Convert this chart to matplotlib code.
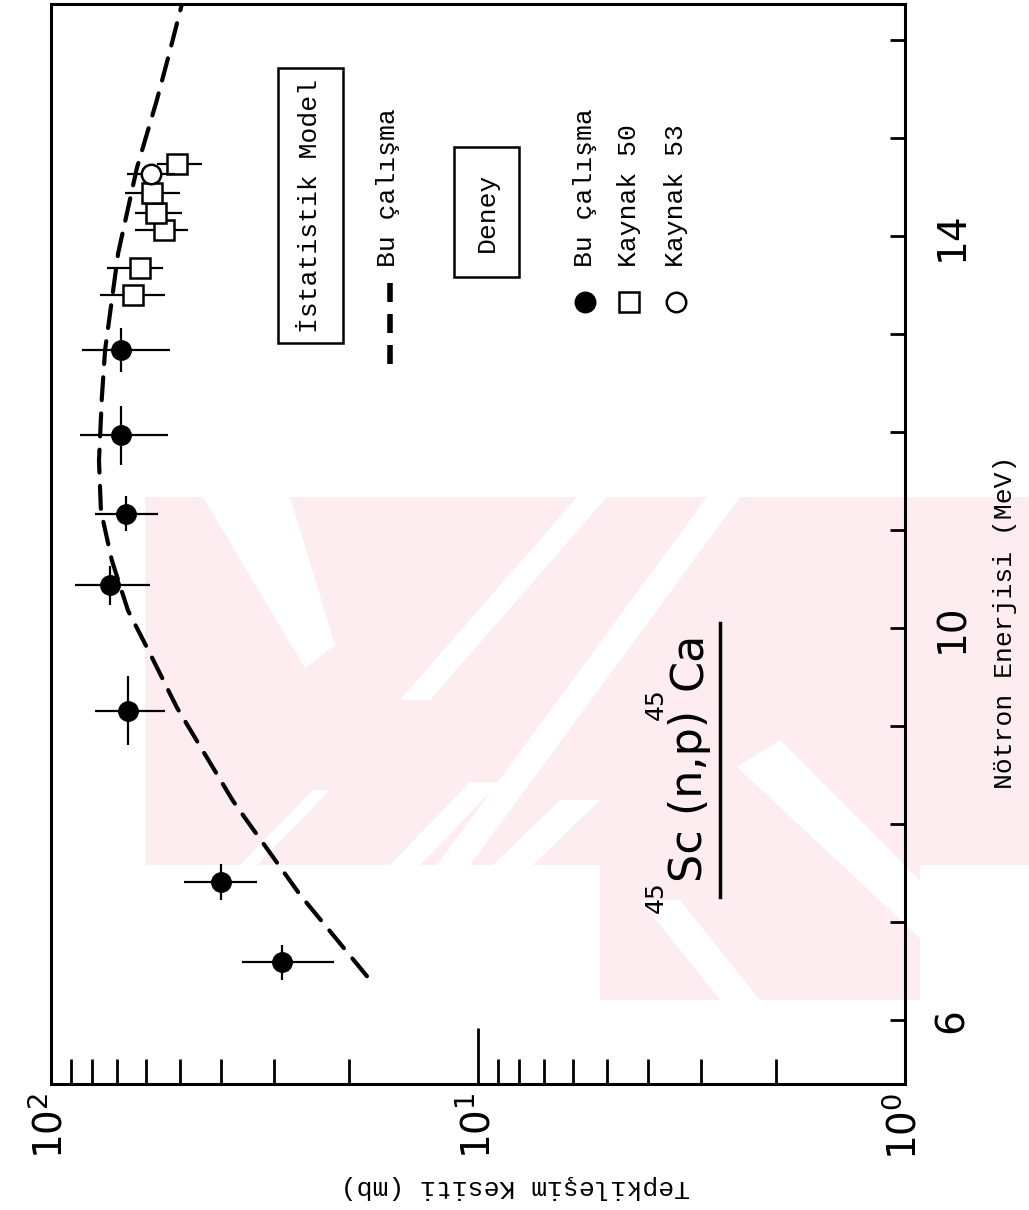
import numpy as np
import matplotlib.pyplot as plt
from matplotlib.lines import Line2D
from matplotlib.patches import Rectangle, Polygon
from matplotlib.ticker import FixedLocator, FuncFormatter, NullFormatter

plt.rcParams['mathtext.default'] = 'regular'

# Bu çalışma (deney): nötron enerjisi (MeV), tesir kesiti (mb)
bu_E = [6.59, 7.41, 9.16, 10.44, 11.17, 11.97, 12.84]
bu_E_err = [0.18, 0.18, 0.35, 0.20, 0.18, 0.30, 0.22]
bu_sigma = [28.8, 40.0, 66.0, 72.8, 66.7, 68.5, 68.5]
bu_lo = [21.7, 32.9, 54.1, 58.6, 56.2, 53.2, 52.7]
bu_hi = [35.7, 48.8, 78.9, 87.9, 78.9, 85.5, 84.6]

# Kaynak 50
k50_E = [13.40, 13.68, 14.06, 14.24, 14.44, 14.74]
k50_sigma = [64.3, 61.9, 54.4, 56.8, 58.0, 50.7]
k50_lo = [54.1, 54.7, 47.7, 49.3, 49.9, 44.3]
k50_hi = [76.8, 74.0, 63.6, 63.6, 67.1, 56.4]

# Kaynak 53
k53_E = [14.64]
k53_sigma = [58.4]
k53_lo = [51.3]
k53_hi = [66.4]

# istatistik model (bu çalışma)
model_E = [6.45, 7.28, 8.04, 8.24, 9.19, 9.74, 10.18, 10.69, 11.20, 11.71,
           12.36, 12.84, 13.83, 14.70, 15.39, 15.90, 16.38]
model_sigma = [18.2, 26.1, 34.8, 37.5, 50.7, 58.6, 66.0, 72.0, 76.4, 77.2,
               76.0, 74.7, 69.6, 62.9, 56.5, 52.6, 49.3]

W, H = 1029, 1210
fig = plt.figure(figsize=(W / 100, H / 100), dpi=100)
ax = fig.add_axes([51 / W, 1 - 1084 / H, (905 - 51) / W, (1084 - 4) / H])
ax.set_facecolor('none')

def fx(px):
    return px / W

def fy(py):
    return 1 - py / H

def fpoly(pts, color):
    fig.patches.append(Polygon([(fx(a), fy(b)) for a, b in pts], closed=True,
                               transform=fig.transFigure, fc=color, ec='none',
                               zorder=-5))

# faint pink watermark of the scanned page (drawn underneath everything)
pink = '#fdedf0'
fpoly([(145, 497), (1029, 497), (1029, 865), (920, 865), (920, 1000),
       (600, 1000), (600, 865), (145, 865)], pink)
for st in [[(203, 497), (290, 497), (335, 645), (305, 668)],
           [(577, 497), (607, 497), (430, 700), (400, 700)],
           [(707, 497), (740, 497), (470, 865), (437, 865)],
           [(240, 865), (257, 865), (330, 790), (313, 790)],
           [(390, 865), (420, 865), (500, 782), (470, 782)],
           [(493, 865), (533, 865), (600, 800), (560, 800)],
           [(737, 767), (780, 740), (1029, 990), (1029, 1040)],
           [(640, 900), (680, 900), (760, 1000), (720, 1000)]]:
    fpoly(st, 'white')

# the original figure is turned 90 degrees: sigma runs right->left, energy upwards
ax.set_xscale('log')
ax.set_xlim(100, 1)
ax.set_ylim(5.35, 16.37)

ax.plot(model_sigma, model_E, color='black', lw=3, dashes=(5.5, 3.2),
        dash_capstyle='round', zorder=2)

def xerr(s, lo, hi):
    s = np.array(s)
    return [s - np.array(lo), np.array(hi) - s]

ax.errorbar(bu_sigma, bu_E, xerr=xerr(bu_sigma, bu_lo, bu_hi), yerr=bu_E_err,
            fmt='o', ms=14, color='black', ecolor='black', elinewidth=1.6,
            capsize=0, zorder=4)
ax.errorbar(k50_sigma, k50_E, xerr=xerr(k50_sigma, k50_lo, k50_hi),
            fmt='s', ms=14, mfc='white', mec='black', mew=1.8,
            ecolor='black', elinewidth=1.6, capsize=0, zorder=3)
ax.errorbar(k53_sigma, k53_E, xerr=xerr(k53_sigma, k53_lo, k53_hi),
            fmt='o', ms=14, mfc='white', mec='black', mew=1.8,
            ecolor='black', elinewidth=1.6, capsize=0, zorder=5)

for sp in ax.spines.values():
    sp.set_linewidth(2.2)

# sigma axis (bottom)
ax.xaxis.set_major_locator(FixedLocator([1, 10, 100]))
ax.xaxis.set_minor_locator(FixedLocator([2, 3, 4, 5, 6, 7, 8, 9,
                                         20, 30, 40, 50, 60, 70, 80, 90]))
ax.xaxis.set_major_formatter(FuncFormatter(
    lambda v, p: '$10^{%d}$' % int(round(np.log10(v)))))
ax.xaxis.set_minor_formatter(NullFormatter())
ax.tick_params(axis='x', which='major', direction='in', length=40, width=2,
               labelsize=28, labelrotation=90, pad=6)
ax.tick_params(axis='x', which='minor', direction='in', length=18, width=2)

# energy axis (right)
ax.yaxis.tick_right()
ax.yaxis.set_major_locator(FixedLocator(list(range(6, 17))))
ax.yaxis.set_major_formatter(FuncFormatter(
    lambda v, p: '%d' % v if int(v) in (6, 10, 14) else ''))
ax.tick_params(axis='y', which='major', direction='in', length=11, width=2,
               labelsize=28, labelrotation=90, pad=20)
for lab in ax.get_yticklabels():
    lab.set_va('center')

mono = ['Liberation Mono', 'DejaVu Sans Mono']

fig.text(fx(515), fy(1187), 'Tepkileşim Kesiti (mb)', rotation=180,
         ha='center', va='center', fontsize=19, family=mono)
fig.text(fx(1005), fy(622), 'Nötron Enerjisi (MeV)', rotation=90,
         ha='center', va='center', fontsize=19, family=mono)

# model box + dashed key
fig.text(fx(310), fy(206), 'İstatistik Model', rotation=90, ha='center',
         va='center', fontsize=19, family=mono)
fig.patches.append(Rectangle((fx(278), fy(343)), fx(343) - fx(278),
                             fy(68) - fy(343), transform=fig.transFigure,
                             fill=False, lw=1.8, ec='black'))
fig.text(fx(388), fy(188), 'Bu çalışma', rotation=90, ha='center',
         va='center', fontsize=19, family=mono)
for top in (283, 314, 345):
    fig.add_artist(Line2D([fx(390), fx(390)], [fy(top + 19), fy(top)],
                          color='black', lw=4, solid_capstyle='butt'))

# experiment box + marker key
fig.text(fx(487), fy(212), 'Deney', rotation=90, ha='center', va='center',
         fontsize=19, family=mono)
fig.patches.append(Rectangle((fx(454), fy(277)), fx(519) - fx(454),
                             fy(147) - fy(277), transform=fig.transFigure,
                             fill=False, lw=1.8, ec='black'))
keys = [('o', 'black', 'Bu çalışma', 585),
        ('s', 'white', 'Kaynak 50', 629),
        ('o', 'white', 'Kaynak 53', 676)]
for mk, fc, txt, px in keys:
    fig.add_artist(Line2D([fx(px)], [fy(302)], marker=mk, ms=14, mfc=fc,
                          mec='black', mew=1.8, ls='none'))
    fig.text(fx(px), fy(267), txt, rotation=90, ha='center', va='bottom',
             fontsize=19, family=mono)

# reaction label, pieces laid along the rotated baseline (x = 702 px)
lab_kw = dict(rotation=90, rotation_mode='anchor', ha='left', va='baseline',
              family='DejaVu Sans')
fig.text(fx(663), fy(913), '45', fontsize=18, **lab_kw)
fig.text(fx(702), fy(882), 'Sc (n,p)', fontsize=32, **lab_kw)
fig.text(fx(663), fy(720), '45', fontsize=18, **lab_kw)
fig.text(fx(702), fy(690), 'Ca', fontsize=32, **lab_kw)
fig.add_artist(Line2D([fx(720), fx(720)], [fy(897), fy(623)],
                      color='black', lw=2.5))

fig.savefig('out.png', dpi=100)
